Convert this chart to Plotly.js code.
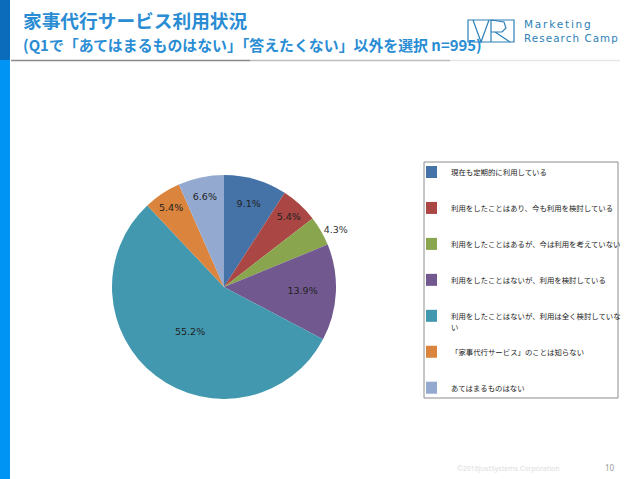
<!DOCTYPE html>
<html><head><meta charset="utf-8">
<script src="https://cdn.plot.ly/plotly-3.0.1.min.js"></script>
<style>html,body{margin:0;padding:0;background:#fff;}#chart{width:640px;height:479px;}</style>
</head><body><div id="chart"></div>
<script>
const categories = [
  '現在も定期的に利用している',
  '利用をしたことはあり、今も利用を検討している',
  '利用をしたことはあるが、今は利用を考えていない',
  '利用をしたことはないが、利用を検討している',
  '利用をしたことはないが、利用は全く検討していな<br>い',
  '「家事代行サービス」のことは知らない',
  'あてはまるものはない'
];
const shares = [9.1, 5.4, 4.3, 13.9, 55.2, 5.4, 6.6];
const sliceColors = ['#4572A7', '#AA4643', '#89A54E', '#71588F', '#4198AF', '#DB843D', '#93A9CF'];
const labelPositions = ['inside', 'inside', 'outside', 'inside', 'inside', 'inside', 'inside'];
const titleText = '家事代行サービス利用状況';
const subtitleText = '(Q1で「あてはまるものはない」「答えたくない」以外を選択 n=995)';

const W = 640, H = 479;
const px = x => x / W, py = y => 1 - y / H;

// legend entries: small visible text, padded to three lines for spacing
const legendLabels = categories.map(c => {
  const lines = c.split('<br>').map(s => '<span style="font-size:7.4px">' + s + '</span>');
  while (lines.length < 3) lines.push(' ');
  return lines.join('<br>');
});

const trace = {
  type: 'pie',
  labels: legendLabels,
  values: shares,
  sort: false,
  direction: 'clockwise',
  rotation: 0,
  marker: {colors: sliceColors, line: {width: 0}},
  texttemplate: '%{value:.1f}%',
  textposition: labelPositions,
  insidetextorientation: 'horizontal',
  textfont: {family: 'DejaVu Sans, Verdana, sans-serif', size: 9.5, color: '#222'},
  outsidetextfont: {family: 'DejaVu Sans, Verdana, sans-serif', size: 9.5, color: '#333'},
  hoverinfo: 'none',
  domain: {x: [px(112), px(336)], y: [py(399), py(175)]}
};

const blue = '#2A8DD4';
const logoBlue = '#2C7FB8';
const spaced = (s, ls) => '<span style="letter-spacing:' + ls + 'px">' + s + '</span>';

const layout = {
  width: W, height: H,
  margin: {l: 0, r: 0, t: 0, b: 0},
  paper_bgcolor: '#fff',
  showlegend: true,
  legend: {
    x: px(426), y: py(160), xanchor: 'left', yanchor: 'top',
    bgcolor: 'rgba(0,0,0,0)', bordercolor: 'rgba(0,0,0,0)', borderwidth: 0,
    font: {family: 'Noto Sans CJK JP, sans-serif', size: 8.45, color: '#222'},
    valign: 'top', indentation: -15
  },
  shapes: [
    {type: 'rect', xref: 'paper', yref: 'paper', x0: 0, x1: px(10), y0: py(60), y1: 1, fillcolor: '#0B6CBC', line: {width: 0}},
    {type: 'rect', xref: 'paper', yref: 'paper', x0: 0, x1: px(10), y0: 0, y1: py(60), fillcolor: '#0094F4', line: {width: 0}},
    {type: 'line', xref: 'paper', yref: 'paper', x0: px(11), x1: px(250), y0: py(60.5), y1: py(60.5), line: {color: '#8a8a8a', width: 1.5}},
    {type: 'line', xref: 'paper', yref: 'paper', x0: px(250), x1: px(450), y0: py(60.5), y1: py(60.5), line: {color: '#bdbdbd', width: 1.5}},
    {type: 'line', xref: 'paper', yref: 'paper', x0: px(450), x1: px(620), y0: py(60.5), y1: py(60.5), line: {color: '#e6e6e6', width: 1.5}},
    {type: 'rect', xref: 'paper', yref: 'paper', x0: px(424), x1: px(618), y0: py(398), y1: py(162), line: {color: '#8c8c8c', width: 1}},
    // logo
    {type: 'rect', xref: 'paper', yref: 'paper', x0: px(468), x1: px(514), y0: py(42), y1: py(20), line: {color: logoBlue, width: 1.2}},
    {type: 'path', xref: 'paper', yref: 'paper',
     path: 'M ' + px(473) + ',' + py(20) + ' L ' + px(481) + ',' + py(42) + ' L ' + px(489) + ',' + py(20) +
           ' M ' + px(491) + ',' + py(20) + ' L ' + px(491) + ',' + py(42) +
           ' M ' + px(491) + ',' + py(20) + ' L ' + px(504) + ',' + py(22) + ' L ' + px(506) + ',' + py(28) + ' L ' + px(502) + ',' + py(32) + ' L ' + px(491) + ',' + py(32) +
           ' M ' + px(495) + ',' + py(32) + ' L ' + px(510) + ',' + py(42),
     line: {color: logoBlue, width: 1.2}}
  ],
  annotations: [
    {xref: 'paper', yref: 'paper', x: px(21), y: py(19.5), xanchor: 'left', yanchor: 'middle', showarrow: false,
     text: '<b>' + titleText + '</b>', font: {family: 'Noto Sans CJK JP, sans-serif', size: 18.7, color: blue}},
    {xref: 'paper', yref: 'paper', x: px(21), y: py(44), xanchor: 'left', yanchor: 'middle', showarrow: false,
     text: '<b>' + subtitleText + '</b>', font: {family: 'Noto Sans CJK JP, sans-serif', size: 14.9, color: blue}},
    {xref: 'paper', yref: 'paper', x: px(522), y: py(24), xanchor: 'left', yanchor: 'middle', showarrow: false,
     text: spaced('Marketing', 1.8), font: {family: 'DejaVu Sans, sans-serif', size: 10.5, color: logoBlue}},
    {xref: 'paper', yref: 'paper', x: px(522), y: py(38), xanchor: 'left', yanchor: 'middle', showarrow: false,
     text: spaced('Research Camp', 1.1), font: {family: 'DejaVu Sans, sans-serif', size: 10.3, color: logoBlue}},
    {xref: 'paper', yref: 'paper', x: px(455), y: py(468), xanchor: 'left', yanchor: 'middle', showarrow: false,
     text: '©2016JustSystems Corporation', font: {family: 'Noto Sans, sans-serif', size: 7, color: '#dcdcdc'}},
    {xref: 'paper', yref: 'paper', x: px(617), y: py(467), xanchor: 'right', yanchor: 'middle', showarrow: false,
     text: '10', font: {family: 'Noto Sans, sans-serif', size: 8, color: '#999'}}
  ]
};

Plotly.newPlot('chart', [trace], layout, {displayModeBar: false, staticPlot: true});
</script></body></html>
